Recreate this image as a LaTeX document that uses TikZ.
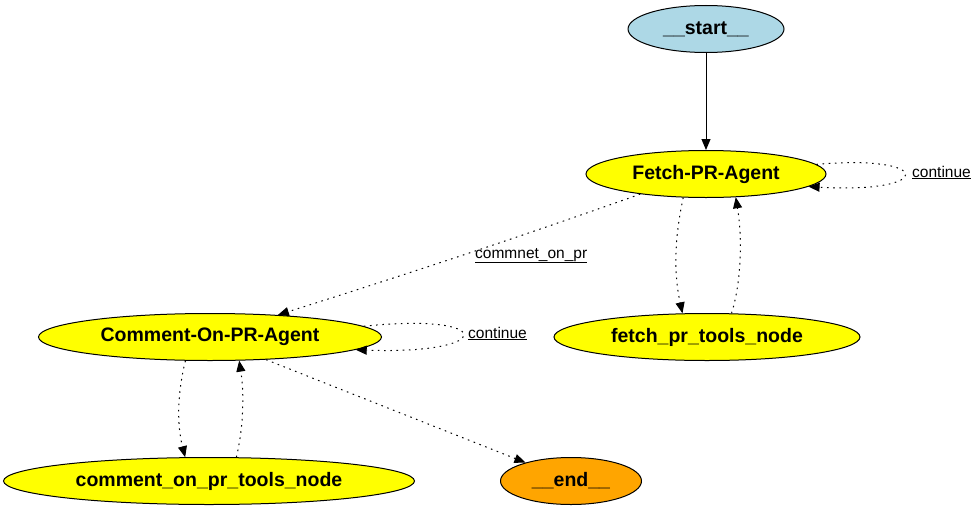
\documentclass[tikz,border=0pt]{standalone}
\usepackage{fontspec}
\setmainfont{Liberation Sans}
\usepackage{xcolor}
\usetikzlibrary{shapes.geometric,arrows.meta}
\definecolor{startblue}{HTML}{ADD8E6}
\definecolor{agentyellow}{HTML}{FFFF00}
\definecolor{endorange}{HTML}{FFA500}

\begin{document}
\begin{tikzpicture}[
    x=1pt,y=-1pt,
    state/.style={ellipse,draw,line width=1pt,inner sep=0pt,minimum height=47,font=\fontsize{19.5}{22}\selectfont\bfseries},
    flow/.style={line width=1pt,-{Triangle[length=11pt,width=9pt]}},
    cond/.style={flow,dash pattern=on 1.6pt off 4.6pt},
    tag/.style={font=\fontsize{15.5}{18}\selectfont,inner sep=0pt,anchor=base west}
]
\useasboundingbox (0,0) rectangle (979,511);

\node[state,fill=startblue,minimum width=156] (start) at (706,29) {\_\_start\_\_};
\node[state,fill=agentyellow,minimum width=240] (fetch) at (706,174) {Fetch-PR-Agent};
\node[state,fill=agentyellow,minimum width=306] (fetchtools) at (707,337) {fetch\_pr\_tools\_node};
\node[state,fill=agentyellow,minimum width=343] (comment) at (210,337) {Comment-On-PR-Agent};
\node[state,fill=agentyellow,minimum width=411] (commenttools) at (209,481) {comment\_on\_pr\_tools\_node};
\node[state,fill=endorange,minimum width=141] (end) at (571,481) {\_\_end\_\_};

\node[tag] (fetchloop) at (912,177) {\underline{continue}};
\node[tag] (commentloop) at (468,338) {\underline{continue}};
\node[tag] (commenton) at (475,258) {\underline{commnet\_on\_pr}};

\draw[flow] (start) -- (fetch);
\draw[cond] (fetch.5) .. controls (935,154) and (935,194) .. (fetch.-7);
\draw[cond] (fetch.226) .. controls (674,240) and (674,275) .. (fetchtools.136);
\draw[cond] (fetchtools.44) .. controls (742,280) and (742,235) .. (fetch.-38);
\draw[cond] (fetch.197) .. controls (520,237) and (398,277) .. (comment.18);

\draw[cond] (comment.4) .. controls (497,312) and (497,355) .. (comment.-5);
\draw[cond] (comment.224) .. controls (177,395) and (177,425) .. (commenttools.135);
\draw[cond] (commenttools.41) .. controls (244,425) and (244,392) .. (comment.-39);
\draw[cond] (comment.-22) -- (end.158);
\end{tikzpicture}
\end{document}
